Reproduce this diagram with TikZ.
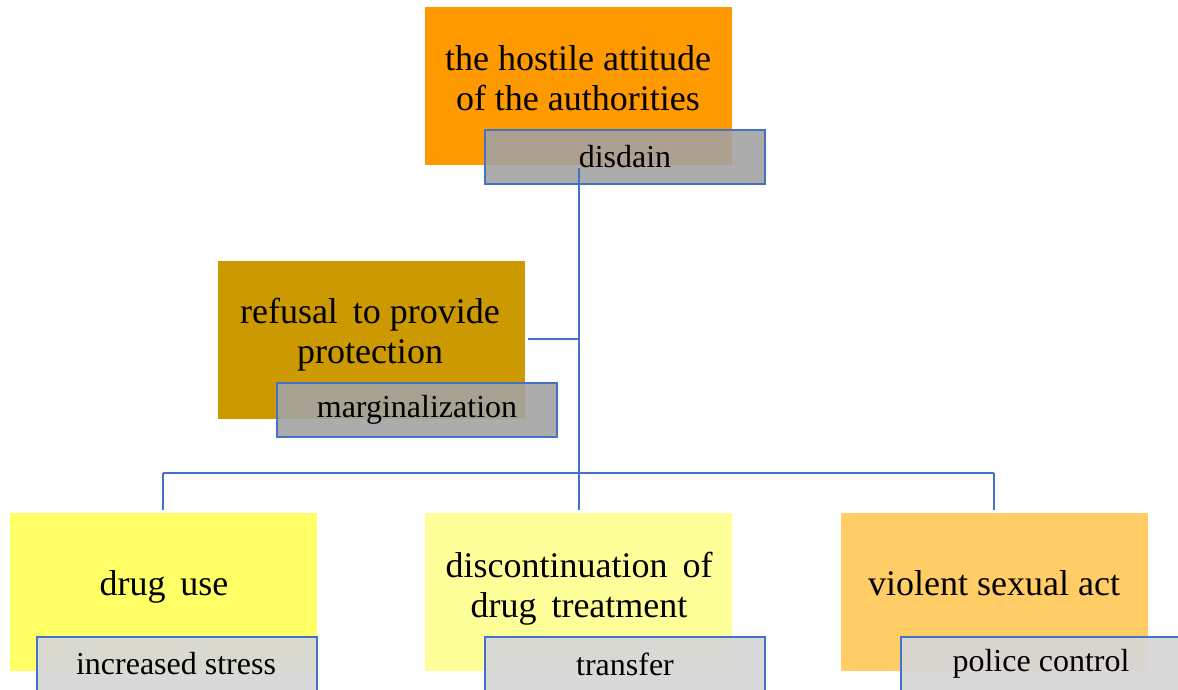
\documentclass[tikz,border=0pt]{standalone}
\usepackage{fontspec}
\setmainfont{Liberation Serif}
\definecolor{cOrange}{HTML}{FF9900}
\definecolor{cGold}{HTML}{CC9900}
\definecolor{cYellow}{HTML}{FFFF66}
\definecolor{cPale}{HTML}{FFFF99}
\definecolor{cPeach}{HTML}{FFCC66}
\definecolor{cBlue}{HTML}{4472C4}
\definecolor{cGrayA}{HTML}{A2A2A2}
\definecolor{cGrayB}{HTML}{D7D7D7}
\tikzset{
  mainbox/.style={rectangle, minimum width=307pt, minimum height=158pt, inner sep=0pt, draw=none},
  maintext/.style={align=center, font=\fontsize{36}{40}\selectfont, inner sep=0pt},
  tagbox/.style={rectangle, minimum width=280pt, minimum height=54pt, inner sep=0pt, draw=cBlue, line width=2pt},
  tagdark/.style={tagbox, fill=cGrayA, fill opacity=0.89},
  taglight/.style={tagbox, fill=cGrayB, fill opacity=0.94},
  tagtext/.style={font=\fontsize{32}{36}\selectfont, inner sep=0pt},
  conn/.style={draw=cBlue, line width=2.4pt}
}
\begin{document}
\begin{tikzpicture}[x=1pt,y=-1pt]
\useasboundingbox (0,0) rectangle (1178,689);
\clip (0,0) rectangle (1178,689);
% main boxes
\node[mainbox, fill=cOrange] (top) at (578.5,86) {};
\node[mainbox, fill=cGold] (refusal) at (371.5,339.5) {};
\node[mainbox, fill=cYellow] (drug) at (163,592) {};
\node[mainbox, fill=cPale] (disc) at (578.5,592) {};
\node[mainbox, fill=cPeach] (viol) at (994,592) {};
% main texts
\node[maintext] (topT) at (578,78) {the hostile attitude\\of the authorities};
\node[maintext] (refT) at (370,335) {refusal\, to provide\\protection};
\node[maintext] (drugT) at (164,587) {drug\, use};
\node[maintext] (discT) at (579,589) {discontinuation\, of\\drug\, treatment};
\node[maintext] (violT) at (994,583) {violent sexual act};
% tag boxes
\node[tagdark] (disdain) at (625,157) {};
\node[tagdark] (marg) at (417,410) {};
\node[taglight] (stress) at (176.5,664) {};
\node[taglight] (transfer) at (625,664) {};
\node[taglight] (police) at (1041,664) {};
% tag texts
\node[tagtext] at (625,157) {disdain};
\node[tagtext] at (417,410) {marginalization};
\node[tagtext] at (176,664) {increased stress};
\node[tagtext] at (625,664) {transfer};
\node[tagtext] at (1041,664) {police control};
% connectors
\coordinate (spineTop) at (579,168);
\coordinate (bus) at (579,473);
\coordinate (refJoin) at (579,339);
\draw[conn] (spineTop) -- ([yshift=3pt]bus |- disc.north);
\draw[conn] (refusal.east |- refJoin) ++(3,0) -- (refJoin);
\draw[conn] (drug.north |- bus) -- (viol.north |- bus);
\draw[conn] (drug.north |- bus) -- ([yshift=3pt]drug.north);
\draw[conn] (viol.north |- bus) -- ([yshift=3pt]viol.north);
\end{tikzpicture}
\end{document}
